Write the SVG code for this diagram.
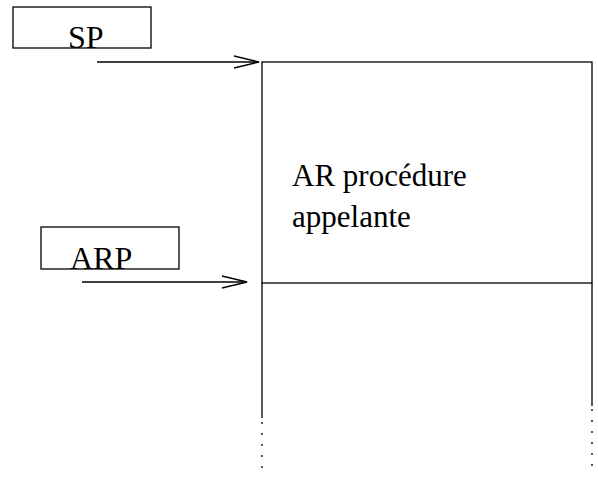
<svg xmlns="http://www.w3.org/2000/svg" width="598" height="477" viewBox="0 0 598 477">
<style>
.ln{stroke:#000;stroke-width:1.3;fill:none}
.dot{stroke:#000;stroke-width:1.3;fill:none;stroke-dasharray:2 9}
.t{font-family:"Liberation Serif",serif;font-size:31px;fill:#000}
.b{font-size:32px}
</style>
<rect width="598" height="477" fill="#fff"/>
<g id="sp">
<rect class="ln" x="13" y="7" width="138" height="41"/>
<text class="t b" x="68" y="48">SP</text>
</g>
<g id="arp">
<rect class="ln" x="41" y="227" width="138" height="42"/>
<text class="t b" x="70" y="269">ARP</text>
</g>
<g id="stack">
<rect class="ln" x="262" y="62" width="330" height="221"/>
<line class="ln" x1="262" y1="283" x2="262" y2="418"/>
<line class="ln" x1="592" y1="283" x2="592" y2="406"/>
<line class="dot" x1="262" y1="422" x2="262" y2="472"/>
<line class="dot" x1="592" y1="409" x2="592" y2="470"/>
<text class="t" x="292" y="186">AR procédure</text>
<text class="t" x="292" y="227">appelante</text>
</g>
<g id="connectors">
<line class="ln" x1="97" y1="62" x2="259" y2="62"/>
<polyline class="ln" points="234,56 259,62 234,68"/>
<line class="ln" x1="82" y1="282" x2="247" y2="282"/>
<polyline class="ln" points="222,276 247,282 222,288"/>
</g>
</svg>
